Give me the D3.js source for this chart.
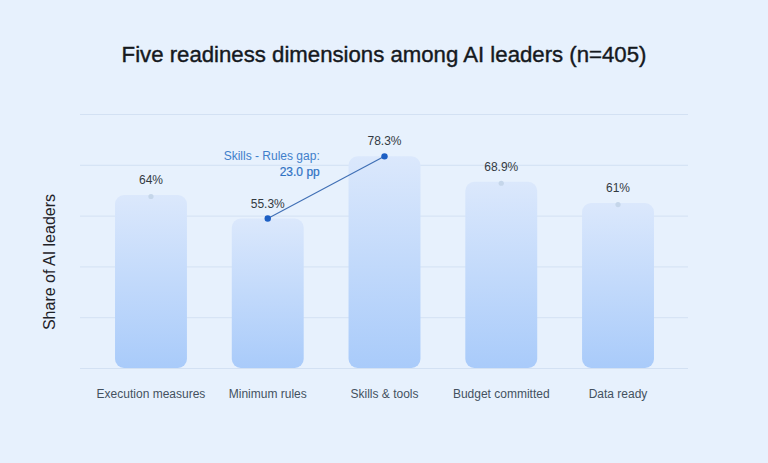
<!DOCTYPE html>
<html>
<head>
<meta charset="utf-8">
<script src="https://cdn.jsdelivr.net/npm/d3@7"></script>
<style>
  html, body { margin: 0; padding: 0; background: #e7f1fd; }
  svg { display: block; font-family: "Liberation Sans", Arial, Helvetica, sans-serif; }
</style>
</head>
<body>
<svg id="chart" width="768" height="463"></svg>
<script>
const categories = ["Execution measures", "Minimum rules", "Skills & tools", "Budget committed", "Data ready"];
const values = [64, 55.3, 78.3, 68.9, 61];
const valueLabels = ["64%", "55.3%", "78.3%", "68.9%", "61%"];
const gapPair = ["Minimum rules", "Skills & tools"];
const gapLines = ["Skills - Rules gap:", "23.0 pp"];
const titleText = "Five readiness dimensions among AI leaders (n=405)";
const yLabel = "Share of AI leaders";

const svg = d3.select("#chart");
const W = 768, H = 463;
svg.append("rect").attr("width", W).attr("height", H).attr("fill", "#e7f1fd");

const gridX0 = 80, gridX1 = 688;
const plotTop = 114, plotBottom = 368;

const x = d3.scaleBand().domain(categories).range([92.6, 676.4])
  .paddingInner(0.384).paddingOuter(0.192);
const y = d3.scaleLinear().domain([0, d3.max(values) * 1.2]).range([plotBottom, plotTop]);

const defs = svg.append("defs");
const grad = defs.append("linearGradient").attr("id", "barGrad")
  .attr("x1", 0).attr("y1", 0).attr("x2", 0).attr("y2", 1);
grad.append("stop").attr("offset", "0%").attr("stop-color", "#dbe8fc");
grad.append("stop").attr("offset", "100%").attr("stop-color", "#a9cbfa");

// gridlines
const gridTicks = d3.range(0, 6).map(i => y.domain()[1] * i / 5);
svg.append("g").selectAll("line").data(gridTicks).join("line")
  .attr("x1", gridX0).attr("x2", gridX1)
  .attr("y1", d => y(d) + 0.5).attr("y2", d => y(d) + 0.5)
  .attr("stroke", "#d3e1f3").attr("stroke-width", 1);

// bars
const data = categories.map((c, i) => ({ c, v: values[i], label: valueLabels[i] }));
svg.append("g").selectAll("rect").data(data).join("rect")
  .attr("x", d => x(d.c)).attr("width", x.bandwidth())
  .attr("y", d => y(d.v)).attr("height", d => y(0) - y(d.v))
  .attr("rx", 9).attr("ry", 9)
  .attr("fill", "url(#barGrad)");

// small top markers
svg.append("g").selectAll("circle").data(data.filter(d => !gapPair.includes(d.c))).join("circle")
  .attr("cx", d => x(d.c) + x.bandwidth() / 2).attr("cy", d => y(d.v) + 1.5)
  .attr("r", 2.6).attr("fill", "#c5d6ea");

// value labels
svg.append("g").selectAll("text").data(data).join("text")
  .attr("x", d => x(d.c) + x.bandwidth() / 2).attr("y", d => y(d.v) - 11)
  .attr("text-anchor", "middle").attr("font-size", 12)
  .attr("fill", "#333a42").text(d => d.label);

// gap annotation
const gp = gapPair.map(c => data.find(d => d.c === c));
svg.append("line")
  .attr("x1", x(gp[0].c) + x.bandwidth() / 2).attr("y1", y(gp[0].v))
  .attr("x2", x(gp[1].c) + x.bandwidth() / 2).attr("y2", y(gp[1].v))
  .attr("stroke", "#3f6fb5").attr("stroke-width", 1.1);
svg.append("g").selectAll("circle").data(gp).join("circle")
  .attr("cx", d => x(d.c) + x.bandwidth() / 2).attr("cy", d => y(d.v))
  .attr("r", 3.2).attr("fill", "#1c5fc4");

const annX = x(gp[0].c) + x.bandwidth() / 2 + 52;
svg.append("text").attr("x", annX).attr("y", 160).attr("text-anchor", "end")
  .attr("font-size", 12).attr("fill", "#3f7fcb").text(gapLines[0]);
svg.append("text").attr("x", annX).attr("y", 176).attr("text-anchor", "end")
  .attr("font-size", 12).attr("fill", "#2f72c4")
  .attr("stroke", "#2f72c4").attr("stroke-width", 0.2).text(gapLines[1]);

// category labels
svg.append("g").selectAll("text").data(categories).join("text")
  .attr("x", d => x(d) + x.bandwidth() / 2).attr("y", 398)
  .attr("text-anchor", "middle").attr("font-size", 12)
  .attr("fill", "#44515f").text(d => d);

// y label
svg.append("text").attr("transform", "translate(55,262) rotate(-90)")
  .attr("text-anchor", "middle").attr("font-size", 16)
  .attr("fill", "#1f2329").text(yLabel);

// title
svg.append("text").attr("x", 384).attr("y", 62).attr("text-anchor", "middle")
  .attr("font-size", 22.2)
  .attr("fill", "#15191e").attr("stroke", "#15191e").attr("stroke-width", 0.4)
  .text(titleText);
</script>
</body>
</html>
